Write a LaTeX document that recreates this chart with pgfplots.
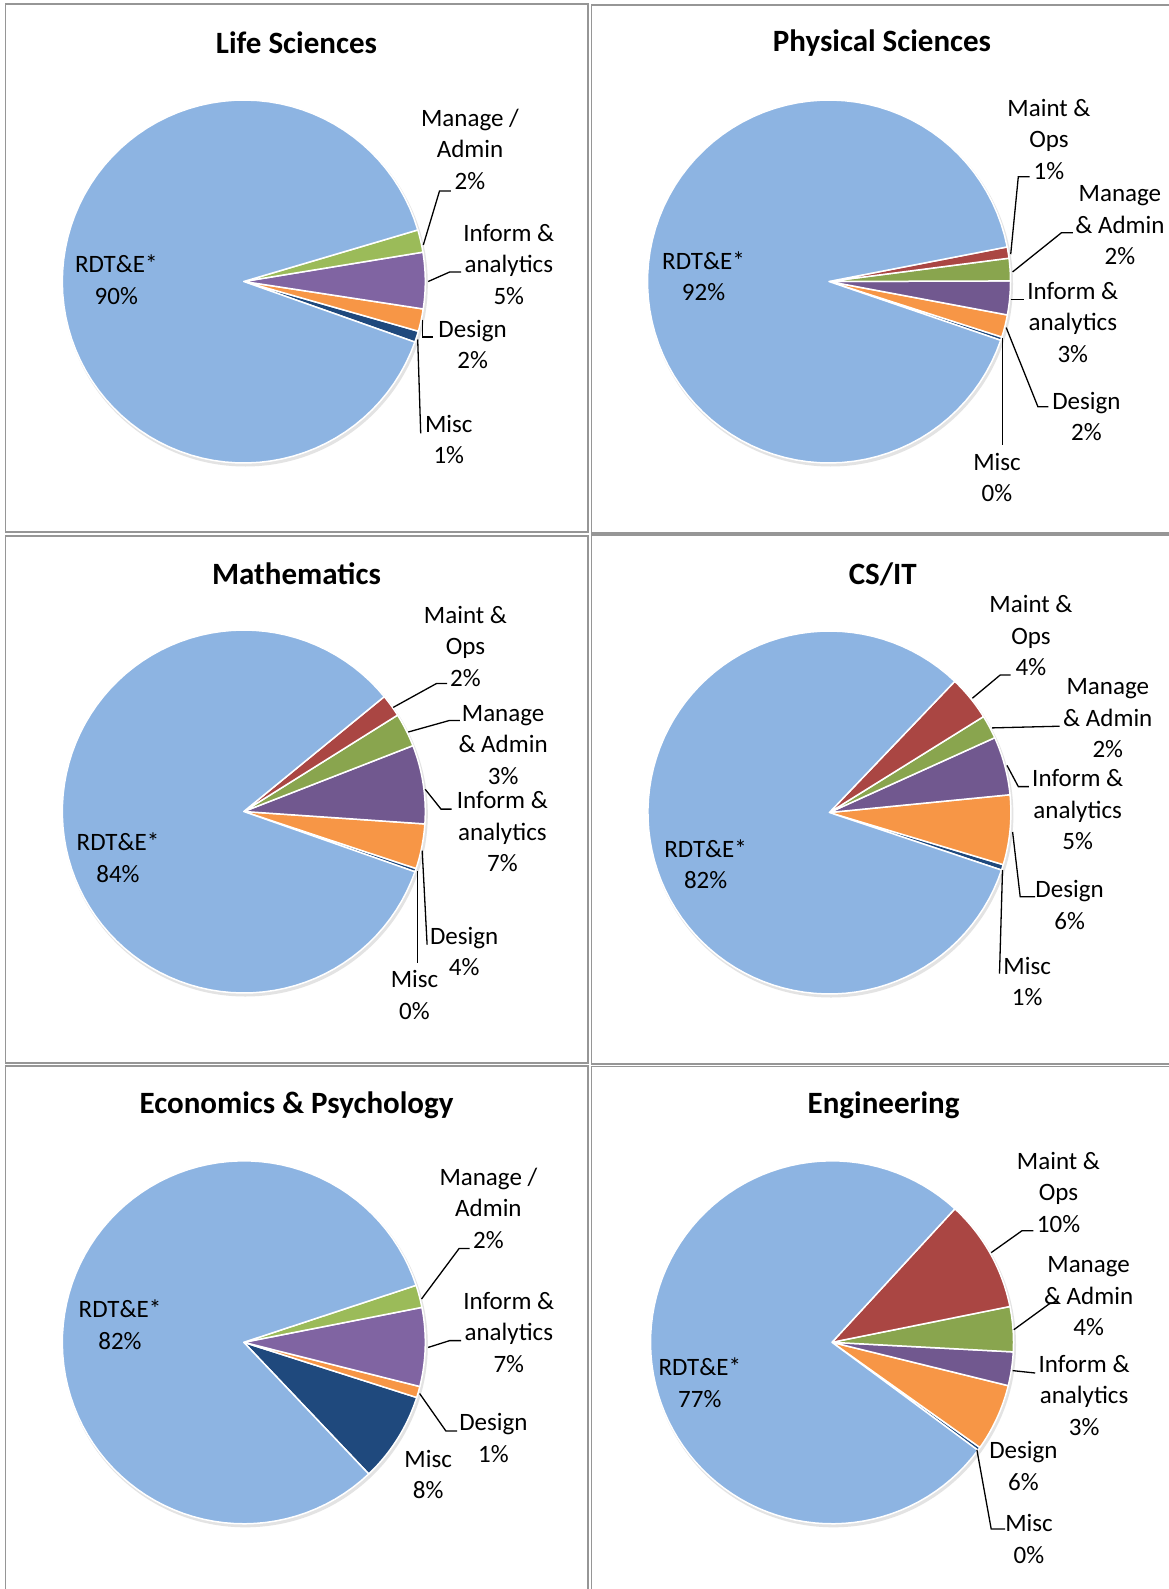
\documentclass[border=0pt]{standalone}
\usepackage{fontspec}
\setmainfont{Carlito}
\usepackage{pgfplots}
\pgfplotsset{compat=1.18}

\definecolor{rdte}{RGB}{141,180,226}
\definecolor{maint}{RGB}{170,70,67}
\definecolor{mgmtA}{RGB}{155,187,89}
\definecolor{mgmtB}{RGB}{137,165,78}
\definecolor{infA}{RGB}{128,100,162}
\definecolor{infB}{RGB}{113,88,143}
\definecolor{design}{RGB}{247,150,70}
\definecolor{misc}{RGB}{31,73,125}
\definecolor{framegray}{RGB}{150,150,150}

% running angle of the pie, slices go counter-clockwise from the start angle
\newcommand\pa{0}
\newcommand\startpie[1]{\xdef\pa{#1}}
\newcommand\slice[2]{%
  \pgfmathsetmacro\pb{\pa+3.6*#1}%
  \edef\doslice{\noexpand\addplot[fill=#2, draw=white, line width=0.75pt, line join=round,
    domain=\pa:\pb, samples=90, variable=\noexpand\t]
    ({cos(\noexpand\t)},{sin(\noexpand\t)}) -- (axis cs:0,0) -- cycle;}%
  \doslice
  \xdef\pa{\pb}}

\pgfplotsset{pie/.style={hide axis, scale only axis, width=181.5pt, height=181.5pt,
  xmin=-1, xmax=1, ymin=-1, ymax=1, anchor=origin, clip=false}}

\newcommand\lab{\fontsize{12.5}{15.75}\selectfont}
\newcommand\ttl{\fontsize{15.5}{18}\selectfont\bfseries}

\begin{document}
\begin{tikzpicture}[x=0.5pt, y=-0.5pt,
  lbl/.style={align=center, font=\lab, inner sep=0pt},
  ttlnode/.style={font=\ttl, inner sep=0pt},
  lead/.style={black, line width=0.65pt}]
\useasboundingbox (0,0) rectangle (1168,1589);
\fill[white] (0,0) rectangle (1168,1589);

% panel frames
\begin{scope}[framegray, line width=0.9pt]
\draw (5.5,4) rectangle (588,532);
\draw (591.5,5) rectangle (1180,533);
\draw (5.5,536) rectangle (588,1063);
\draw (591.5,535) rectangle (1180,1064);
\draw (5.5,1066) rectangle (588,1600);
\draw (591.5,1066.5) rectangle (1180,1600);
\end{scope}

\coordinate (c1) at (243.8,281.5);
\coordinate (c2) at (829,281.5);
\coordinate (c3) at (243.8,811.5);
\coordinate (c4) at (829.4,812.5);
\coordinate (c5) at (243.8,1342.3);
\coordinate (c6) at (832,1342.3);

% soft shadows
\foreach \c in {c1,c2,c3,c4,c5,c6}
  \fill[gray!22] ([shift={(1.5,2.5)}]\c) circle (182.5);

% Life Sciences
\begin{axis}[pie, at={(c1)}]
\startpie{-19.5}
\slice{1}{misc}\slice{2}{design}\slice{5}{infA}\slice{2}{mgmtA}\slice{90}{rdte}
\end{axis}
% Physical Sciences
\begin{axis}[pie, at={(c2)}]
\startpie{-18.9}
\slice{0.3}{misc}\slice{2}{design}\slice{3}{infB}\slice{2}{mgmtB}\slice{1}{maint}\slice{91.7}{rdte}
\end{axis}
% Mathematics
\begin{axis}[pie, at={(c3)}]
\startpie{-19.4}
\slice{0.3}{misc}\slice{4}{design}\slice{7}{infB}\slice{3}{mgmtB}\slice{2}{maint}\slice{83.7}{rdte}
\end{axis}
% CS/IT
\begin{axis}[pie, at={(c4)}]
\startpie{-18.5}
\slice{0.5}{misc}\slice{6.2}{design}\slice{5.2}{infB}\slice{2.1}{mgmtB}\slice{4}{maint}\slice{82}{rdte}
\end{axis}
% Economics & Psychology
\begin{axis}[pie, at={(c5)}]
\startpie{-46.5}
\slice{8}{misc}\slice{1}{design}\slice{7}{infA}\slice{2}{mgmtA}\slice{82}{rdte}
\end{axis}
% Engineering
\begin{axis}[pie, at={(c6)}]
\startpie{-36.5}
\slice{0.3}{misc}\slice{6}{design}\slice{3}{infB}\slice{4}{mgmtB}\slice{10}{maint}\slice{76.7}{rdte}
\end{axis}

% titles
\node[ttlnode] at (296.5,42.7) {Life Sciences};
\node[ttlnode] at (882,42.7) {Physical Sciences};
\node[ttlnode] at (296.5,573.7) {Mathematics};
\node[ttlnode] at (882.8,574.4) {CS/IT};
\node[ttlnode] at (296.5,1105.2) {Economics \& Psychology};
\node[ttlnode] at (883.6,1105.2) {Engineering};

% Life Sciences labels
\node[lbl] at (116.3,279.8) {RDT\&E*\\90\%};
\node[lbl] at (470,149.1) {Manage /\\Admin\\2\%};
\node[lbl] at (508.8,264.4) {Inform \&\\analytics\\5\%};
\node[lbl] at (472.6,344.3) {Design\\2\%};
\node[lbl] at (448.8,439.3) {Misc\\1\%};
\draw[lead] (423.3,245)--(439.5,191)--(450.8,191);
\draw[lead] (428.2,281.5)--(449.7,272)--(461,272);
\draw[lead] (422.2,319.7)--(422.2,337.1)--(432.7,337.1);
\draw[lead] (417.7,339.5)--(420.7,433.3);

% Physical Sciences labels
\node[lbl] at (703.5,276.4) {RDT\&E*\\92\%};
\node[lbl] at (1049,139.2) {Maint \&\\Ops\\1\%};
\node[lbl] at (1119.9,225.2) {Manage\\\& Admin\\2\%};
\node[lbl] at (1072.8,322.4) {Inform \&\\analytics\\3\%};
\node[lbl] at (1086.4,416.3) {Design\\2\%};
\node[lbl] at (997,477.7) {Misc\\0\%};
\draw[lead] (1010.7,254.2)--(1018.3,176.7)--(1029.6,176.7);
\draw[lead] (1012.6,271.9)--(1061.5,232.7)--(1072.8,232.7);
\draw[lead] (1010.7,299.6)--(1023.9,299.6);
\draw[lead] (1006.2,327.6)--(1037.9,406.7)--(1048.4,406.7);
\draw[lead] (1002.5,337.8)--(1002.5,445.3);

% Mathematics labels
\node[lbl] at (118,857.6) {RDT\&E*\\84\%};
\node[lbl] at (465.5,646) {Maint \&\\Ops\\2\%};
\node[lbl] at (503.1,745) {Manage\\\& Admin\\3\%};
\node[lbl] at (502.4,832) {Inform \&\\analytics\\7\%};
\node[lbl] at (464.2,951.3) {Design\\4\%};
\node[lbl] at (414.5,995) {Misc\\0\%};
\draw[lead] (393.2,707.4)--(436.5,683.5)--(447,683.5);
\draw[lead] (408.3,732)--(449.7,720.4)--(459.8,720.4);
\draw[lead] (425.2,789.3)--(441,809.1)--(451.6,809.1);
\draw[lead] (422.2,850.7)--(427.1,944.6);
\draw[lead] (417.7,870.5)--(417.7,963.3);

% CS/IT labels
\node[lbl] at (705.6,864) {RDT\&E*\\82\%};
\node[lbl] at (1031,635.8) {Maint \&\\Ops\\4\%};
\node[lbl] at (1107.8,718.3) {Manage\\\& Admin\\2\%};
\node[lbl] at (1077.7,809.8) {Inform \&\\analytics\\5\%};
\node[lbl] at (1069.6,904.9) {Design\\6\%};
\node[lbl] at (1027.2,981.4) {Misc\\1\%};
\draw[lead] (972.4,698.2)--(1000.2,675)--(1010.7,675);
\draw[lead] (992,727.9)--(1059.7,726.2);
\draw[lead] (1007,765.4)--(1018.3,786.6)--(1028.8,786.6);
\draw[lead] (1012.6,832)--(1020.2,896.8)--(1035.2,896.8);
\draw[lead] (1002.5,870.2)--(999.5,973.6);

% Economics & Psychology labels
\node[lbl] at (120,1324.9) {RDT\&E*\\82\%};
\node[lbl] at (488.4,1208.2) {Manage /\\Admin\\2\%};
\node[lbl] at (508.8,1332.1) {Inform \&\\analytics\\7\%};
\node[lbl] at (493.4,1437.9) {Design\\1\%};
\node[lbl] at (428.2,1474.7) {Misc\\8\%};
\draw[lead] (421.5,1299)--(459.1,1248.5)--(469.6,1248.5);
\draw[lead] (428.2,1347.4)--(449.7,1340.6)--(461,1340.6);
\draw[lead] (419.6,1393.5)--(445.9,1431)--(457.2,1431);

% Engineering labels
\node[lbl] at (699.8,1382.6) {RDT\&E*\\77\%};
\node[lbl] at (1058.5,1192.2) {Maint \&\\Ops\\10\%};
\node[lbl] at (1088.6,1296.3) {Manage\\\& Admin\\4\%};
\node[lbl] at (1084.1,1395.2) {Inform \&\\analytics\\3\%};
\node[lbl] at (1023.4,1466) {Design\\6\%};
\node[lbl] at (1029,1538.9) {Misc\\0\%};
\draw[lead] (991.2,1252.6)--(1022,1230.7)--(1033.3,1230.7);
\draw[lead] (1013.8,1329.7)--(1050.3,1303.1)--(1058,1303.1);
\draw[lead] (1012.6,1370.6)--(1035.2,1373);
\draw[lead] (976.9,1449.8)--(991.2,1529)--(1005.1,1529);
\end{tikzpicture}
\end{document}
